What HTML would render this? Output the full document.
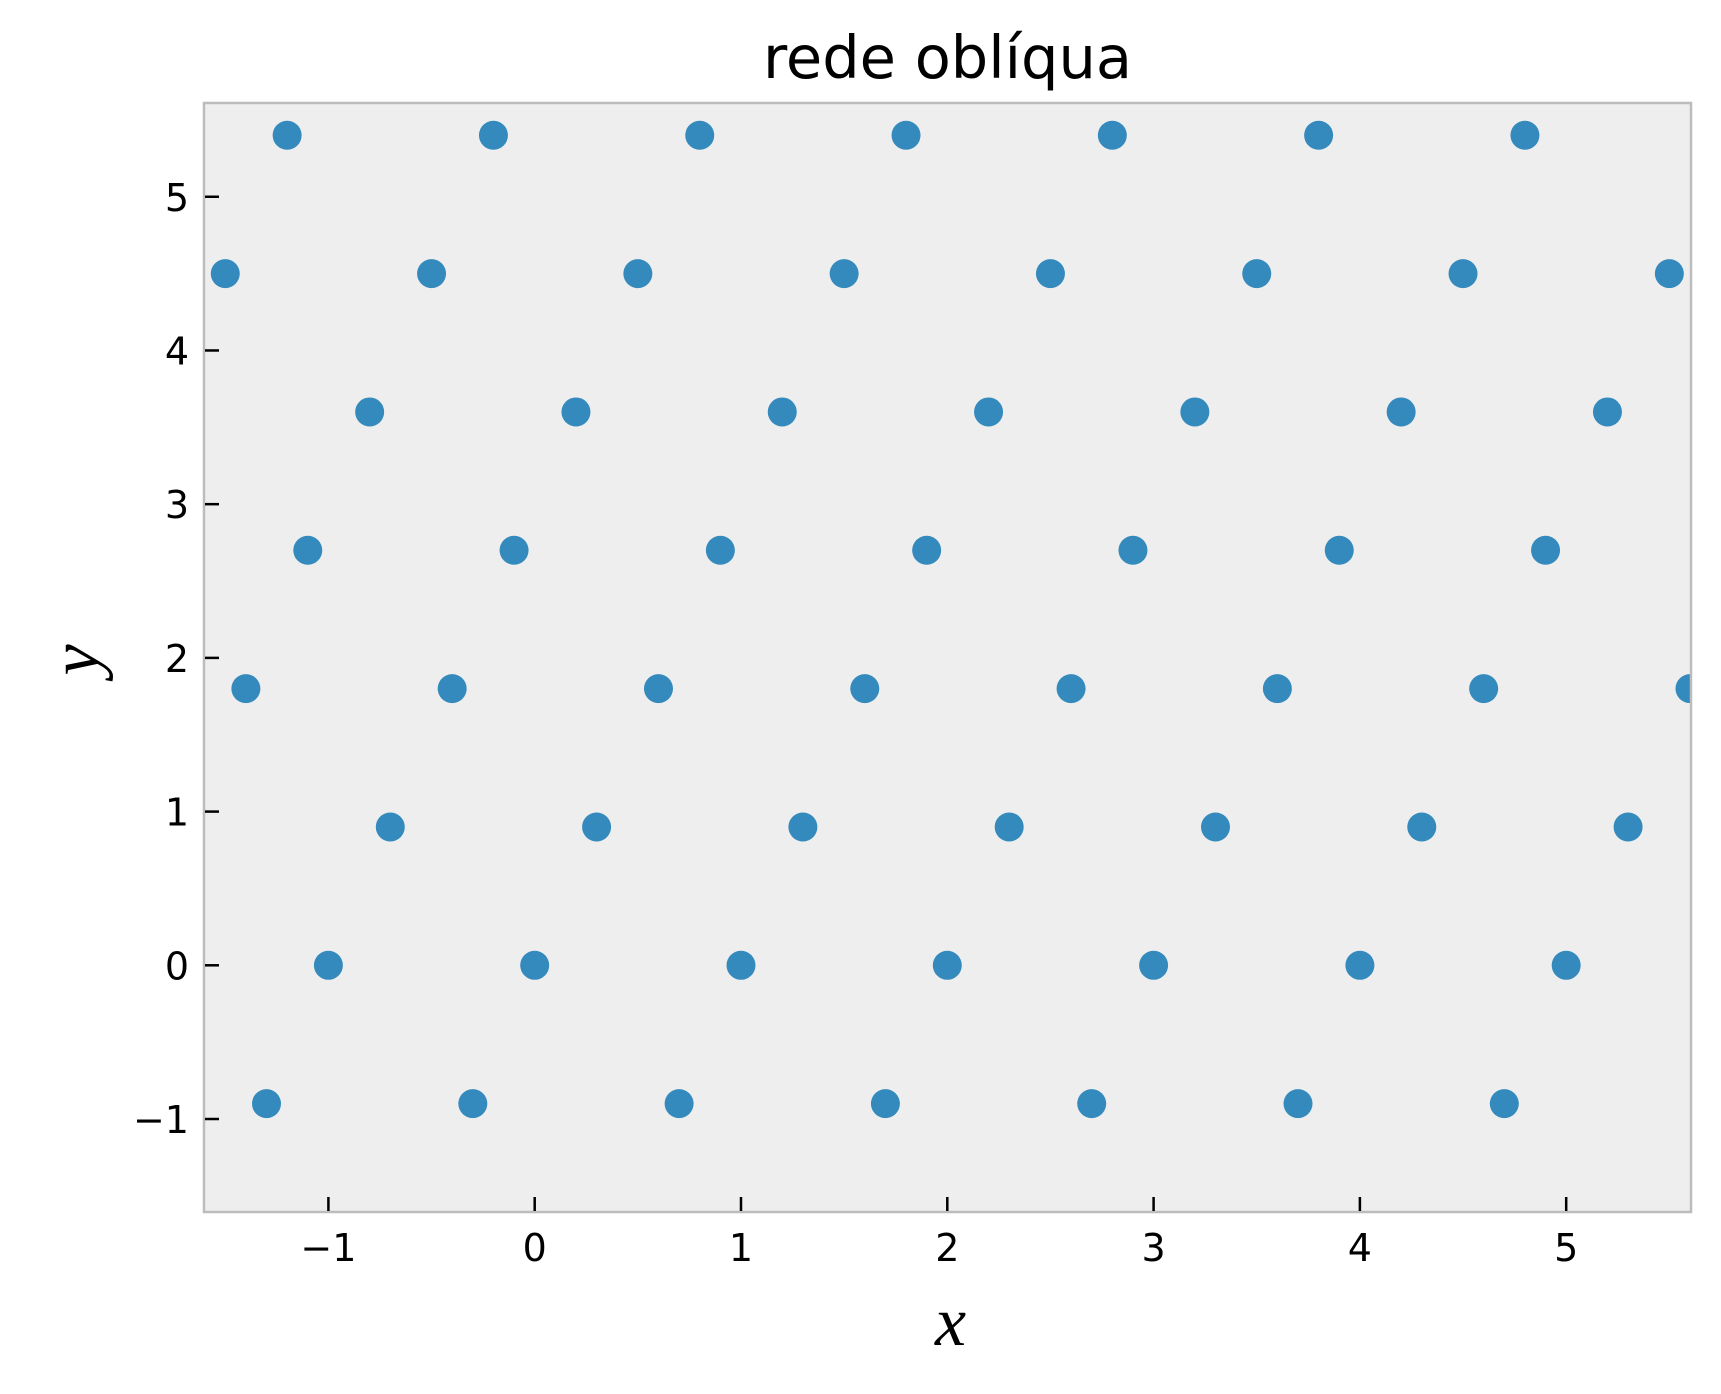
<!DOCTYPE html>
<html><head><meta charset="utf-8"><style>body{margin:0;background:#fff}svg{display:block}</style></head>
<body>
<svg id="chart" width="1721" height="1394" xmlns="http://www.w3.org/2000/svg"></svg>
<script>
const rowY = [-0.9, 0, 0.9, 1.8, 2.7, 3.6, 4.5, 5.4];
const rowXs = [
  [-1.3,-0.3,0.7,1.7,2.7,3.7,4.7],
  [-1,0,1,2,3,4,5],
  [-0.7,0.3,1.3,2.3,3.3,4.3,5.3],
  [-1.4,-0.4,0.6,1.6,2.6,3.6,4.6,5.6],
  [-1.1,-0.1,0.9,1.9,2.9,3.9,4.9],
  [-0.8,0.2,1.2,2.2,3.2,4.2,5.2],
  [-1.5,-0.5,0.5,1.5,2.5,3.5,4.5,5.5],
  [-1.2,-0.2,0.8,1.8,2.8,3.8,4.8]
];
const xTicks = [-1,0,1,2,3,4,5];
const yTicks = [-1,0,1,2,3,4,5];
const xTickLabels = ["\u22121","0","1","2","3","4","5"];
const yTickLabels = ["\u22121","0","1","2","3","4","5"];

const NS="http://www.w3.org/2000/svg";
const svg=document.getElementById('chart');
const L=204,R=1691,T=103,B=1212;
const xmin=-1.603,xmax=5.605,ymin=-1.605,ymax=5.61;
const sx=v=>L+(v-xmin)/(xmax-xmin)*(R-L);
const sy=v=>B-(v-ymin)/(ymax-ymin)*(B-T);
function mk(tag,attrs,parent){const e=document.createElementNS(NS,tag);for(const k in attrs)e.setAttribute(k,attrs[k]);(parent||svg).appendChild(e);return e;}

const defs=mk('defs',{});
const cp=mk('clipPath',{id:'clip'},defs);
mk('rect',{x:L,y:T,width:R-L,height:B-T},cp);

const bg=mk('rect',{x:L,y:T,width:R-L,height:B-T,fill:'#eeeeee'});



const g=mk('g',{'clip-path':'url(#clip)'});


rowY.forEach((y,i)=>{rowXs[i].forEach(x=>{
  const c=mk('circle',{cx:sx(x),cy:sy(y),r:14.5,fill:'#348abd'},g);
  
  
});});

const fr=mk('rect',{x:L,y:T,width:R-L,height:B-T,fill:'none',stroke:'#bcbcbc','stroke-width':2.5});



xTicks.forEach((v,i)=>{
  const x=sx(v);
  const t=mk('line',{x1:x,x2:x,y1:B-15,y2:B-1,stroke:'#000','stroke-width':2.5});
  
  
  const tx=mk('text',{x:x,y:B+49,'text-anchor':'middle','font-family':'DejaVu Sans, Liberation Sans, sans-serif','font-size':38,fill:'#000'});
  tx.textContent=xTickLabels[i];
  
  
});
yTicks.forEach((v,i)=>{
  const y=sy(v);
  const t=mk('line',{x1:L+1,x2:L+15,y1:y,y2:y,stroke:'#000','stroke-width':2.5});
  
  
  const tx=mk('text',{x:L-15,y:y+14,'text-anchor':'end','font-family':'DejaVu Sans, Liberation Sans, sans-serif','font-size':38,fill:'#000'});
  tx.textContent=yTickLabels[i];
  
  
});

const title=mk('text',{x:(L+R)/2,y:78,'text-anchor':'middle','font-family':'DejaVu Sans, Liberation Sans, sans-serif','font-size':59,fill:'#000'});
title.textContent='rede oblíqua';



const xl=mk('text',{x:(L+R)/2+3,y:1345,'text-anchor':'middle','font-family':'Liberation Serif, DejaVu Serif, serif','font-style':'italic','font-size':70,fill:'#000'});
xl.textContent='x';



const yl=mk('text',{x:0,y:0,'text-anchor':'middle','font-family':'Liberation Serif, DejaVu Serif, serif','font-style':'italic','font-size':70,fill:'#000',transform:'translate(98,660) rotate(-90)'});
yl.textContent='y';


</script>
</body></html>
